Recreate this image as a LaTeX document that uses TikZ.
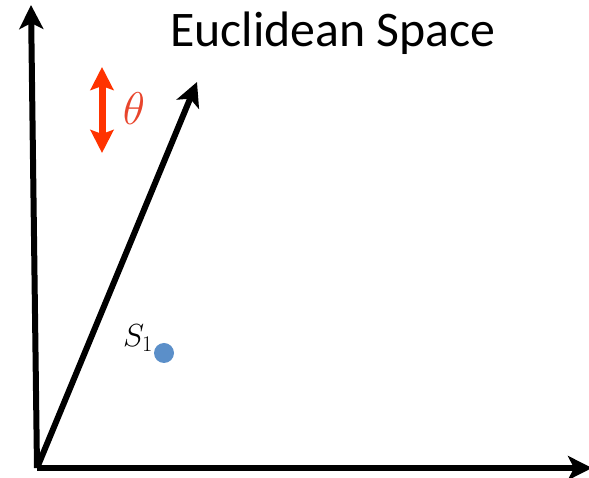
\RequirePackage{fix-cm}
\documentclass[tikz,border=0pt]{standalone}
\usepackage{fontspec}
\setsansfont{Carlito}
\usetikzlibrary{arrows.meta}
\definecolor{thetared}{HTML}{FF3300}
\definecolor{thetatxt}{HTML}{E8452C}
\definecolor{ptblue}{HTML}{5B8FC9}
\begin{document}
\begin{tikzpicture}[x=1bp,y=1bp,
  axis/.style={line width=6bp,-{Stealth[length=24bp,width=24bp,inset=6bp]}},
  rot/.style={thetared,line width=7bp,{Stealth[length=23bp,width=23bp,inset=4bp]}-{Stealth[length=23bp,width=23bp,inset=4bp]}}]
\useasboundingbox (0,0) rectangle (589,478);
\coordinate (origin) at (37,10);
\coordinate (ytip) at (31,473);
\coordinate (xtip) at (592,10);
\coordinate (vtip) at (197,396);
\coordinate (rtop) at (102,411);
\coordinate (rbot) at (102,325);
\draw[axis] (origin) -- (ytip);
\draw[axis] (origin) -- (xtip);
\draw[axis] (origin) -- (vtip);
\draw[rot] (rbot) -- (rtop);
\node[thetatxt,font=\fontsize{46}{50}\selectfont] (theta) at (134,369) {$\theta$};
\node[font=\fontsize{32}{36}\selectfont] (slabel) at (138,140) {$S_1$};
\fill[ptblue] (164,125) circle (10bp) coordinate (spt);
\node[font=\sffamily\fontsize{50}{54}\selectfont,anchor=base] (title) at (333,431) {Euclidean Space};
\end{tikzpicture}
\end{document}
